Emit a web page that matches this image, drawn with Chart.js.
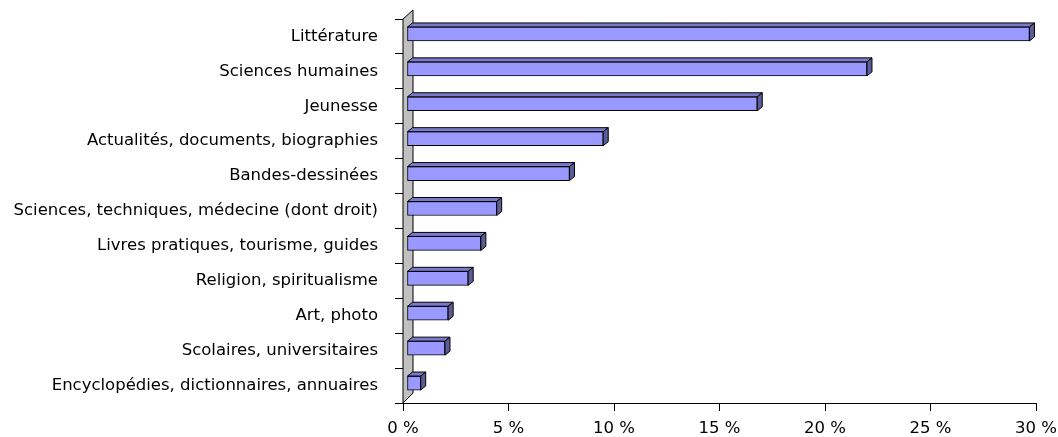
<!DOCTYPE html>
<html>
<head>
<meta charset="utf-8">
<script src="https://cdn.jsdelivr.net/npm/chart.js@4/dist/chart.umd.min.js"></script>
<style>
  html, body { margin: 0; padding: 0; background: #fff; }
  #wrap { width: 1058px; height: 437px; position: relative; }
</style>
</head>
<body>
<div id="wrap"><canvas id="c" width="1058" height="437"></canvas></div>
<script>
// Répartition des titres par genre (en %)
const categories = [
  'Littérature',
  'Sciences humaines',
  'Jeunesse',
  'Actualités, documents, biographies',
  'Bandes-dessinées',
  'Sciences, techniques, médecine (dont droit)',
  'Livres pratiques, tourisme, guides',
  'Religion, spiritualisme',
  'Art, photo',
  'Scolaires, universitaires',
  'Encyclopédies, dictionnaires, annuaires'
];
const shares = [29.5, 21.8, 16.6, 9.3, 7.7, 4.25, 3.5, 2.9, 1.95, 1.8, 0.65];
const xTicks = [0, 5, 10, 15, 20, 25, 30];

const FONT = { family: '"DejaVu Sans", Verdana, sans-serif', size: 16.5 };
const DEPTH_X = 5, DEPTH_Y = 4;

// Grey back wall behind the bars plus the floor edge
const wallPlugin = {
  id: 'wall',
  beforeDatasetsDraw(chart) {
    const { ctx, chartArea: a } = chart;
    ctx.save();
    ctx.beginPath();
    ctx.moveTo(a.left, a.top);
    ctx.lineTo(a.left + 10, a.top - 9);
    ctx.lineTo(a.left + 10, a.bottom - 10);
    ctx.lineTo(a.left, a.bottom);
    ctx.closePath();
    ctx.fillStyle = '#C0C0C0';
    ctx.fill();
    ctx.lineWidth = 1;
    ctx.strokeStyle = '#000';
    ctx.stroke();
    ctx.restore();
    // bars sit a little behind the front plane
    ctx.save();
    ctx.translate(4, -2.5);
  },
  afterDatasetsDraw(chart) {
    const ctx = chart.ctx;
    const meta = chart.getDatasetMeta(0);
    ctx.lineWidth = 1;
    ctx.strokeStyle = '#000';
    ctx.lineJoin = 'round';
    meta.data.forEach(el => {
      const p = el.getProps(['x', 'y', 'base', 'height'], true);
      const top = p.y - p.height / 2, bottom = p.y + p.height / 2;
      // top face
      ctx.beginPath();
      ctx.moveTo(p.base, top);
      ctx.lineTo(p.base + DEPTH_X, top - DEPTH_Y);
      ctx.lineTo(p.x + DEPTH_X, top - DEPTH_Y);
      ctx.lineTo(p.x, top);
      ctx.closePath();
      ctx.fillStyle = '#7A7ACC';
      ctx.fill();
      ctx.stroke();
      // side face
      ctx.beginPath();
      ctx.moveTo(p.x, top);
      ctx.lineTo(p.x + DEPTH_X, top - DEPTH_Y);
      ctx.lineTo(p.x + DEPTH_X, bottom - DEPTH_Y);
      ctx.lineTo(p.x, bottom);
      ctx.closePath();
      ctx.fillStyle = '#5C5C99';
      ctx.fill();
      ctx.stroke();
    });
    ctx.restore();
  }
};

new Chart(document.getElementById('c'), {
  type: 'bar',
  data: {
    labels: categories,
    datasets: [{
      data: shares,
      backgroundColor: '#9999FF',
      borderColor: '#000',
      borderWidth: 1,
      borderSkipped: false,
      barThickness: 14
    }]
  },
  options: {
    indexAxis: 'y',
    responsive: false,
    animation: false,
    events: [],
    layout: { padding: { top: 19, right: 22, bottom: 0, left: 0 } },
    plugins: { legend: { display: false }, tooltip: { enabled: false } },
    scales: {
      x: {
        min: 0, max: 30,
        afterBuildTicks(s) { s.ticks = xTicks.map(v => ({ value: v })); },
        afterFit(s) { s.height = 34; s.paddingLeft = 0; s.paddingRight = 0; },
        ticks: {
          color: '#000', font: FONT, padding: 8,
          maxRotation: 0, autoSkip: false,
          callback: v => v + ' %'
        },
        grid: { drawOnChartArea: false, drawTicks: true, tickLength: 8, color: '#000' },
        border: { display: true, color: '#000', width: 1 }
      },
      y: {
        afterFit(s) { s.width = 403; s.paddingTop = 0; s.paddingBottom = 0; },
        ticks: { color: '#000', font: FONT, padding: 17, autoSkip: false },
        grid: { offset: true, drawOnChartArea: false, drawTicks: true, tickLength: 8, color: '#000' },
        border: { display: true, color: '#000', width: 1 }
      }
    }
  },
  plugins: [wallPlugin]
});
</script>
</body>
</html>
